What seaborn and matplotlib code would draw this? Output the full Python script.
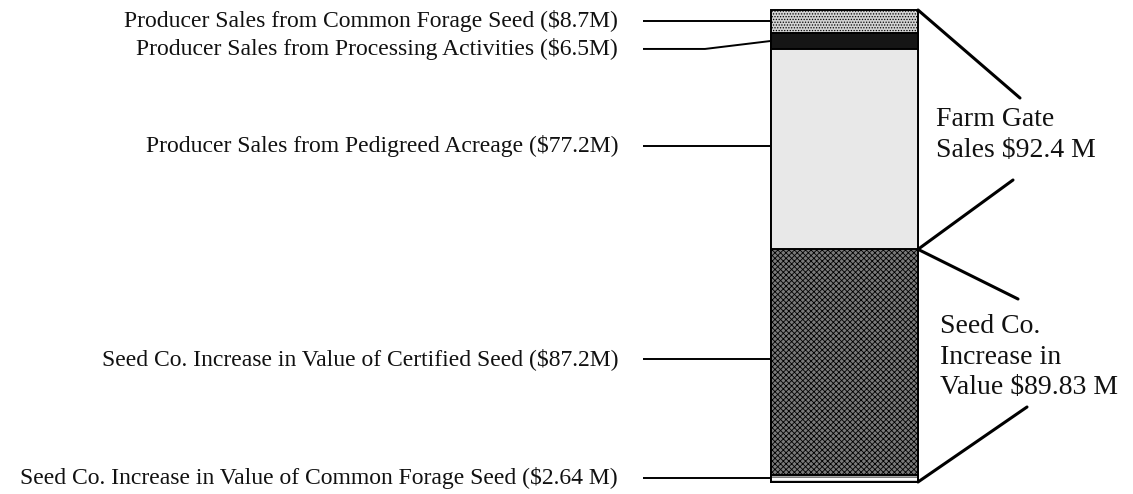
import matplotlib
matplotlib.use("Agg")
import matplotlib.pyplot as plt
import seaborn as sns
import numpy as np

# segments, bottom to top of the stacked bar
segment_names = [
    "Seed Co. Increase in Value of Common Forage Seed",
    "Seed Co. Increase in Value of Certified Seed",
    "Producer Sales from Pedigreed Acreage",
    "Producer Sales from Processing Activities",
    "Producer Sales from Common Forage Seed",
]
segment_values = [2.64, 87.2, 77.2, 6.5, 8.7]
value_labels = ["($2.64 M)", "($87.2M)", "($77.2M)", "($6.5M)", "($8.7M)"]

# bracket groups: (first segment, last segment, text)
group_spans = [(2, 4), (0, 1)]
group_texts = ["Farm Gate\nSales $92.4 M", "Seed Co.\nIncrease in\nValue $89.83 M"]

# look of each segment
fills = ["#ffffff", "#7a7a7a", "#e8e8e8", "#151515", "#d2d2d2"]
hatches = ["----", "xxxxxx", "", "", "......"]
label_shift = [-1, -3, -3, 8, 0]  # px nudge of the left labels

sns.set_theme(style="white")
plt.rcParams["font.family"] = ["Liberation Serif", "DejaVu Serif"]
plt.rcParams["hatch.linewidth"] = 0.6

W, H = 1133, 494
fig = plt.figure(figsize=(W / 100, H / 100), dpi=100)
fig.patch.set_facecolor("white")

# axes that holds just the bar
bax = fig.add_axes([771 / W, (H - 482) / H, 147 / W, 472 / H])
cum = np.cumsum(segment_values)
for i in reversed(range(len(segment_values))):
    sns.barplot(x=["bar"], y=[cum[i]], color=fills[i], saturation=1,
                width=1, errorbar=None, ax=bax)
for p, i in zip(bax.patches, reversed(range(len(segment_values)))):
    p.set_hatch(hatches[i])
    p.set_edgecolor("black")
    p.set_linewidth(1.4)
    p.set_clip_on(False)
bax.set_xlim(-0.5, 0.5)
bax.set_ylim(0, cum[-1])
bax.axis("off")

# overlay in pixel units for labels and leader lines
ov = fig.add_axes([0, 0, 1, 1], zorder=5)
ov.set_xlim(0, W)
ov.set_ylim(H, 0)
ov.axis("off")
ov.patch.set_alpha(0)


def to_px(x, v):
    d = bax.transData.transform((x, v))
    return d[0], H - d[1]


lows = np.concatenate([[0], cum[:-1]])
for i, name in enumerate(segment_names):
    xl, ymid = to_px(-0.5, (lows[i] + cum[i]) / 2)
    yt = ymid + label_shift[i]
    yend = ymid if abs(label_shift[i]) > 4 else yt
    ov.text(618, yt, f"{name} {value_labels[i]}", ha="right", va="center",
            fontsize=17, color="#111111")
    ov.plot([643, 705, xl], [yt, yt, yend], color="black", lw=1.4,
            solid_capstyle="butt")

# right-hand brackets
bracket_ends = [((1020, 98), (1013, 180)), ((1018, 299), (1027, 407))]
text_pos = [(936, 135), (940, 357)]
for (a, b), txt, ends, tp in zip(group_spans, group_texts, bracket_ends, text_pos):
    xr, ytop = to_px(0.5, cum[b])
    _, ybot = to_px(0.5, lows[a])
    ov.plot([xr, ends[0][0]], [ytop, ends[0][1]], color="black", lw=2.2)
    ov.plot([xr, ends[1][0]], [ybot, ends[1][1]], color="black", lw=2.2)
    ov.text(tp[0], tp[1], txt, ha="left", va="center", fontsize=20,
            linespacing=1.3, color="#111111")

fig.savefig("out.png", dpi=100)
